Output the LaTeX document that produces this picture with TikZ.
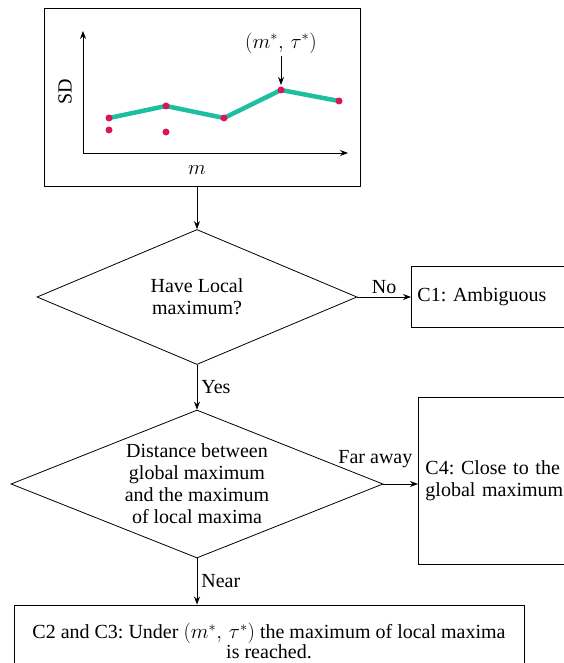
\documentclass[tikz,border=0pt]{standalone}
\usepackage{fontspec}
\setmainfont{Liberation Serif}
\usetikzlibrary{shapes.geometric,arrows.meta,positioning}
\frenchspacing

\definecolor{curvegreen}{RGB}{30,190,160}
\definecolor{dotred}{RGB}{220,20,90}

\tikzset{
box/.style={draw,line width=0.9pt,rectangle,inner sep=0pt},
decision/.style={draw,line width=0.8pt,diamond,aspect=2.4,inner sep=0pt,align=center},
flow/.style={line width=0.8pt,-{Stealth[length=8pt,width=6pt]}},
sample/.style={circle,fill=dotred,inner sep=0pt,minimum size=7pt}}

\begin{document}
\begin{tikzpicture}
  [x=1pt,y=-1pt,
   every node/.style={font=\fontsize{20}{22}\selectfont}]
  \useasboundingbox (0,0) rectangle (564,663);
  \clip (0,0) rectangle (564,663);
  % plot
  \node[box,minimum width=316pt,minimum height=178pt] (plot) at (202,97) {};
  \coordinate (origin) at (83,153);
  \draw[flow] (origin) -- (83,31);
  \draw[flow] (origin) -- (348,153);
  \node[rotate=90] (sd) at (65,92) {SD};
  \node (mlabel) at (197,170) {$m$};
  \foreach \x/\y [count=\i] in {109/118,166/106,224/118,281/90,339/101}
    \coordinate (p\i) at (\x,\y);
  \draw[curvegreen,line width=4.5pt,line join=round] (p1) -- (p2) -- (p3) -- (p4) -- (p5);
  \foreach \i in {1,...,5}
    \node[sample] (s\i) at (p\i) {};
  \node[sample] (q1) at (109,130) {};
  \node[sample] (q2) at (166,132) {};
  \node[inner sep=2pt] (peak) at (281,43) {$\left(m^{*},\,\tau^{*}\right)$};
  \draw[flow,shorten >=5pt] (peak.south) -- (s4.center);
  % chart
  \node[decision,minimum width=320pt,minimum height=135pt] (local) at (197,297) {Have Local\\maximum?};
  \node[decision,minimum width=372pt,minimum height=148pt] (dist) at (197,484)
    {Distance between\\global maximum\\and the maximum\\of local maxima};
  \node[box,anchor=west,minimum height=61pt,text width=180pt,inner xsep=6pt,align=left] (amb) at (411,297) {C1: Ambiguous};
  \node[box,anchor=west,minimum height=167pt,text width=170pt,inner xsep=7pt,align=left] (close) at (418,480.5)
    {C4: Close to the\\global maximum};
  \node[box,minimum width=510pt,minimum height=72pt,align=center,font=\fontsize{20}{20}\selectfont] (reach) at (269,641)
    {C2 and C3: Under $\left(m^{*},\,\tau^{*}\right)$ the maximum of local maxima\\is reached.};
  \draw[flow] (local.north |- plot.south) -- (local.north);
  \draw[flow] (local.east) -- node[above,inner sep=3pt] (no) {No} (local.east -| amb.west);
  \draw[flow] (local.south) -- node[right,inner sep=4pt] (yes) {Yes} (dist.north);
  \draw[flow] (dist.east) -- node[pos=0,above=14pt,xshift=-8pt,inner sep=2pt] (far) {Far away} (dist.east -| close.west);
  \draw[flow] (dist.south) -- node[right,inner sep=4pt] (near) {Near} (dist.south |- reach.north);
\end{tikzpicture}
\end{document}
